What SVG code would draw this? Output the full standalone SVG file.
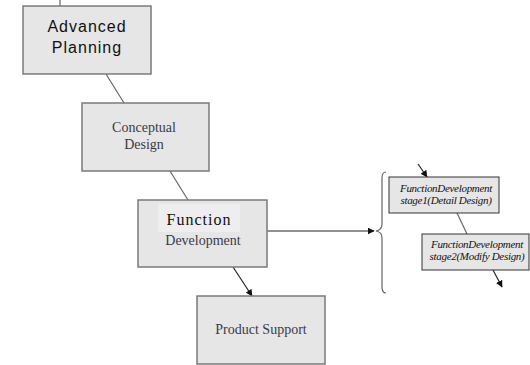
<svg xmlns="http://www.w3.org/2000/svg" width="530" height="365" viewBox="0 0 530 365">
  <defs>
    <marker id="arrow" viewBox="0 0 10 10" refX="9" refY="5" markerWidth="7" markerHeight="7" markerUnits="userSpaceOnUse" orient="auto">
      <path d="M0,0 L10,5 L0,10 z" fill="#111"/>
    </marker>
    <style>
      .box { fill: #e6e6e6; stroke: #7a7a7a; stroke-width: 1.5; }
      .sbox { fill: #e6e6e6; stroke: #333; stroke-width: 1; }
      .link { stroke: #666; stroke-width: 1.2; fill: none; }
      .dark { stroke: #222; stroke-width: 1.2; fill: none; }
      .sans { font-family: "Liberation Sans", Arial, sans-serif; fill: #111; text-anchor: middle; }
      .serif { font-family: "Liberation Serif", "Times New Roman", serif; fill: #3a3a48; text-anchor: middle; }
      .ital { font-family: "Liberation Serif", "Times New Roman", serif; font-style: italic; fill: #111; text-anchor: middle; font-size: 11px; letter-spacing: -0.3px; }
    </style>
  </defs>

  <rect width="530" height="365" fill="#ffffff"/>

  <!-- connectors -->
  <g id="connectors">
    <line class="link" x1="60" y1="0" x2="60" y2="6"/>
    <line class="link" x1="106" y1="74" x2="124" y2="103"/>
    <line class="link" x1="170" y1="171" x2="188" y2="200"/>
    <line class="dark" x1="233" y1="267" x2="252" y2="296" marker-end="url(#arrow)"/>
    <line class="dark" x1="267" y1="231" x2="374" y2="231" marker-end="url(#arrow)"/>
    <!-- brace grouping the two stages -->
    <path class="link" d="M386,172 Q382,172 382,178 L382,224 Q382,230 376,231 Q382,232 382,238 L382,287 Q382,293 386,293" stroke="#555"/>
    <line class="dark" x1="418" y1="164" x2="427" y2="177" marker-end="url(#arrow)"/>
    <line class="link" x1="457" y1="213" x2="467" y2="234" stroke="#999"/>
    <line class="dark" x1="493" y1="270" x2="502" y2="287" marker-end="url(#arrow)"/>
  </g>

  <g id="advanced-planning">
    <rect class="box" x="23" y="6" width="128" height="68"/>
    <text class="sans" x="87" y="32" font-size="16" letter-spacing="1">Advanced</text>
    <text class="sans" x="87" y="53" font-size="16" letter-spacing="1">Planning</text>
  </g>

  <g id="conceptual-design">
    <rect class="box" x="82" y="103" width="127" height="68"/>
    <text class="serif" x="144" y="132" font-size="14">Conceptual</text>
    <text class="serif" x="144" y="149" font-size="14">Design</text>
  </g>

  <g id="function-development">
    <rect class="box" x="138" y="200" width="129" height="67"/>
    <rect x="158" y="204" width="82" height="28" fill="#eeeeee"/>
    <text class="serif" x="199" y="225" font-size="16" letter-spacing="1" style="fill:#111">Function</text>
    <text class="serif" x="203" y="245" font-size="14">Development</text>
  </g>

  <g id="product-support">
    <rect class="box" x="197" y="296" width="128" height="68"/>
    <text class="serif" x="261" y="334" font-size="14">Product Support</text>
  </g>

  <g id="stage1">
    <rect class="sbox" x="389" y="177" width="110" height="36"/>
    <text class="ital" x="446" y="192">FunctionDevelopment</text>
    <text class="ital" x="446" y="204">stage1(Detail Design)</text>
  </g>

  <g id="stage2">
    <rect class="sbox" x="422" y="234" width="107" height="36"/>
    <text class="ital" x="477" y="248">FunctionDevelopment</text>
    <text class="ital" x="477" y="260">stage2(Modify Design)</text>
  </g>
</svg>
